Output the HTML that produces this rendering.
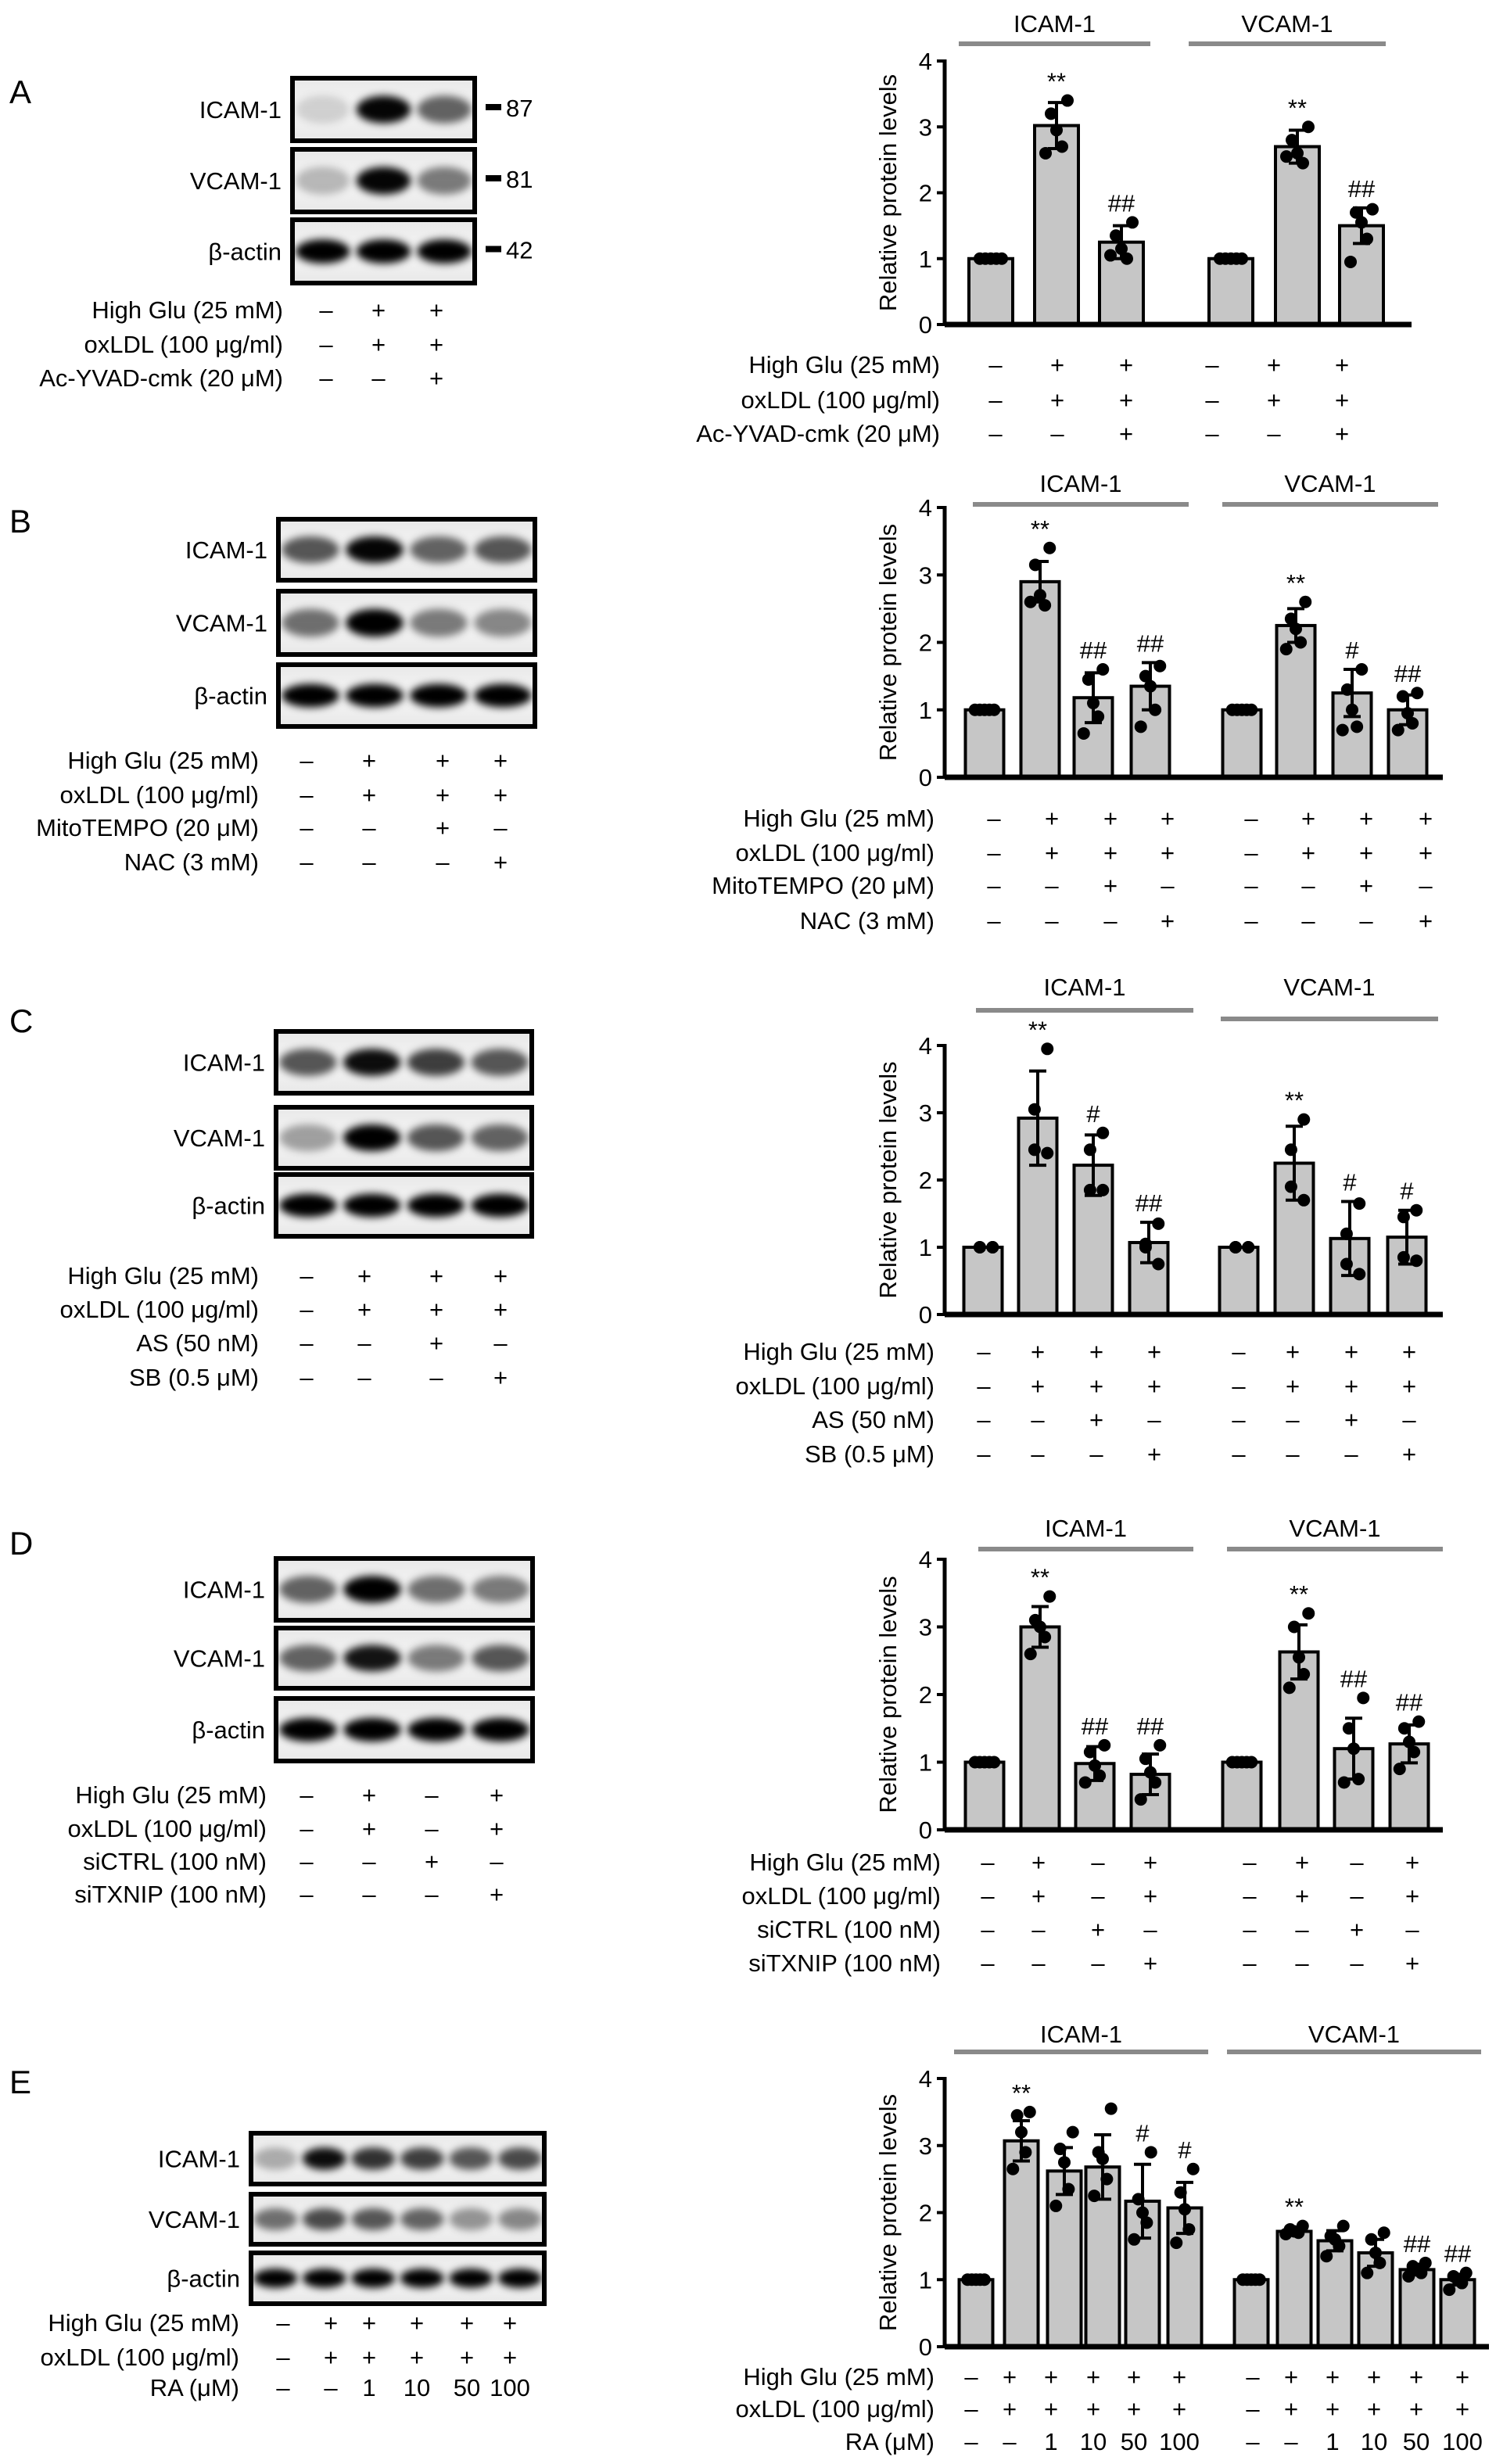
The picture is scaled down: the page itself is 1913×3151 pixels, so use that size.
<!DOCTYPE html>
<html><head><meta charset="utf-8">
<style>
html,body{margin:0;padding:0;background:#fff;}
svg{display:block;font-family:"Liberation Sans",Arial,sans-serif;}
</style></head>
<body>
<svg id="fig" width="1913" height="3151" viewBox="0 0 1913 3151" xmlns="http://www.w3.org/2000/svg">
<defs>
<filter id="blur" x="-50%" y="-50%" width="200%" height="200%"><feGaussianBlur stdDeviation="5"/></filter>
<linearGradient id="mem" x1="0" y1="0" x2="0" y2="1"><stop offset="0" stop-color="#e8e8e8"/><stop offset="0.5" stop-color="#f6f6f6"/><stop offset="1" stop-color="#e8e8e8"/></linearGradient>
</defs>
</svg>
<script>
// ---------- DATA ----------
const groupNames = ["ICAM-1","VCAM-1"];
const yTicks = [0,1,2,3,4];

const aIcamMean=[1,3.02,1.25], aIcamSD=[0,0.35,0.25];
const aVcamMean=[1,2.7,1.5],  aVcamSD=[0,0.25,0.27];
const aIcamPts=[[1,1,1,1,1],[3.4,3.2,2.95,2.7,2.6],[1.55,1.35,1.15,1.0,1.05]];
const aVcamPts=[[1,1,1,1,1],[3.0,2.8,2.6,2.45,2.55],[1.75,1.7,1.55,1.3,0.95]];
const aIcamSig=["","**","##"], aVcamSig=["","**","##"];
const aCondLabels=["High Glu (25 mM)","oxLDL (100 μg/ml)","Ac-YVAD-cmk (20 μM)"];
const aCondSigns=[["–","+","+"],["–","+","+"],["–","–","+"]];

const bIcamMean=[1,2.9,1.18,1.35], bIcamSD=[0,0.3,0.37,0.35];
const bVcamMean=[1,2.25,1.25,1.0], bVcamSD=[0,0.25,0.35,0.22];
const bIcamPts=[[1,1,1,1,1],[3.4,3.15,2.7,2.55,2.6],[1.6,1.45,1.1,0.9,0.65],[1.65,1.5,1.35,1.0,0.75]];
const bVcamPts=[[1,1,1,1,1],[2.6,2.35,2.2,2.0,1.9],[1.6,1.3,1.0,0.75,0.7],[1.25,1.2,0.95,0.8,0.7]];
const bIcamSig=["","**","##","##"], bVcamSig=["","**","#","##"];
const bCondLabels=["High Glu (25 mM)","oxLDL (100 μg/ml)","MitoTEMPO (20 μM)","NAC (3 mM)"];
const bCondSigns=[["–","+","+","+"],["–","+","+","+"],["–","–","+","–"],["–","–","–","+"]];

const cIcamMean=[1,2.92,2.22,1.07], cIcamSD=[0,0.7,0.45,0.3];
const cVcamMean=[1,2.25,1.13,1.15], cVcamSD=[0,0.55,0.55,0.4];
const cIcamPts=[[1,1,1,1],[3.95,3.05,2.45,2.4],[2.7,2.45,1.85,1.85],[1.35,1.05,1.0,0.75]];
const cVcamPts=[[1,1,1,1],[2.9,2.45,1.9,1.7],[1.65,1.2,0.75,0.6],[1.55,1.45,0.85,0.8]];
const cIcamSig=["","**","#","##"], cVcamSig=["","**","#","#"];
const cCondLabels=["High Glu (25 mM)","oxLDL (100 μg/ml)","AS (50 nM)","SB (0.5 μM)"];
const cCondSigns=[["–","+","+","+"],["–","+","+","+"],["–","–","+","–"],["–","–","–","+"]];

const dIcamMean=[1,3.0,0.98,0.82], dIcamSD=[0,0.3,0.25,0.3];
const dVcamMean=[1,2.63,1.2,1.27], dVcamSD=[0,0.4,0.45,0.28];
const dIcamPts=[[1,1,1,1,1],[3.45,3.1,3.0,2.85,2.6],[1.25,1.15,0.95,0.8,0.7],[1.25,1.05,0.85,0.7,0.45]];
const dVcamPts=[[1,1,1,1,1],[3.2,3.0,2.55,2.3,2.1],[1.95,1.5,1.2,0.75,0.7],[1.6,1.5,1.3,1.15,0.9]];
const dIcamSig=["","**","##","##"], dVcamSig=["","**","##","##"];
const dCondLabels=["High Glu (25 mM)","oxLDL (100 μg/ml)","siCTRL (100 nM)","siTXNIP (100 nM)"];
const dCondSigns=[["–","+","–","+"],["–","+","–","+"],["–","–","+","–"],["–","–","–","+"]];

const eIcamMean=[1,3.07,2.62,2.68,2.17,2.07], eIcamSD=[0,0.3,0.35,0.48,0.55,0.38];
const eVcamMean=[1,1.72,1.58,1.4,1.15,1.0], eVcamSD=[0,0.05,0.15,0.2,0.08,0.08];
const eIcamPts=[[1,1,1,1,1],[3.5,3.45,3.2,2.9,2.65],[3.2,2.95,2.75,2.35,2.1],[3.55,2.9,2.8,2.5,2.25],[2.9,2.2,2.0,1.85,1.6],[2.65,2.3,2.05,1.75,1.55]];
const eVcamPts=[[1,1,1,1,1],[1.8,1.75,1.72,1.7,1.68],[1.8,1.65,1.6,1.5,1.35],[1.7,1.6,1.4,1.25,1.1],[1.25,1.2,1.15,1.1,1.05],[1.1,1.05,1.0,0.95,0.85]];
const eIcamSig=["","**","","","#","#"], eVcamSig=["","**","","","##","##"];
const eCondLabels=["High Glu (25 mM)","oxLDL (100 μg/ml)","RA (μM)"];
const eCondSigns=[["–","+","+","+","+","+"],["–","+","+","+","+","+"],["–","–","1","10","50","100"]];

const aBands=[[0.15,0.98,0.6],[0.25,0.98,0.5],[1,1,1]];
const bBands=[[0.65,0.98,0.6,0.65],[0.55,1,0.5,0.45],[1,1,1,1]];
const cBands=[[0.65,0.95,0.75,0.65],[0.35,1,0.65,0.6],[1,1,1,1]];
const dBands=[[0.6,1,0.55,0.5],[0.6,0.92,0.5,0.65],[1,1,1,1]];
const eBands=[[0.3,0.95,0.8,0.75,0.65,0.7],[0.55,0.7,0.65,0.6,0.4,0.45],[1,1,1,1,1,1]];

// ---------- LAYOUT ----------
const panels=[
 {id:"a",letter:"A",ly:117,im:aIcamMean,is:aIcamSD,ip:aIcamPts,ig:aIcamSig,vm:aVcamMean,vs:aVcamSD,vp:aVcamPts,vg:aVcamSig,cl:aCondLabels,cs:aCondSigns,bands:aBands,
  blot:{x0:374,x1:607,boxes:[[100,180],[191,271],[281,362]],markers:["87","81","42"]},
  left:{right:362,rows:[396,440,483],cols:[417,484,558]},
  ch:{ax:1208,y0:415,y4:78,end:1805,lineY:[56,56],labY:29,lines:[[1226,1471],[1520,1772]],bw:56,
      ix:[1267,1351,1434],vx:[1574,1659,1741],rows:[466,511,554],right:1202,icx:[1273,1352,1440],vcx:[1550,1629,1716]}},
 {id:"b",letter:"B",ly:666,im:bIcamMean,is:bIcamSD,ip:bIcamPts,ig:bIcamSig,vm:bVcamMean,vs:bVcamSD,vp:bVcamPts,vg:bVcamSig,cl:bCondLabels,cs:bCondSigns,bands:bBands,
  blot:{x0:356,x1:684,boxes:[[664,742],[756,837],[850,929]]},
  left:{right:331,rows:[972,1016,1058,1102],cols:[392,472,566,640]},
  ch:{ax:1208,y0:994,y4:649,end:1845,lineY:[645,645],labY:617,lines:[[1244,1520],[1563,1839]],bw:49,
      ix:[1259,1330,1398,1471],vx:[1588,1657,1729,1800],rows:[1046,1090,1132,1177],right:1195,icx:[1271,1345,1420,1493],vcx:[1600,1673,1747,1823]}},
 {id:"c",letter:"C",ly:1305,im:cIcamMean,is:cIcamSD,ip:cIcamPts,ig:cIcamSig,vm:cVcamMean,vs:cVcamSD,vp:cVcamPts,vg:cVcamSig,cl:cCondLabels,cs:cCondSigns,bands:cBands,
  blot:{x0:353,x1:680,boxes:[[1319,1398],[1416,1494],[1502,1581]]},
  left:{right:331,rows:[1631,1674,1717,1761],cols:[392,466,558,640]},
  ch:{ax:1208,y0:1681,y4:1337,end:1845,lineY:[1292,1303],labY:1261,lines:[[1248,1526],[1561,1839]],bw:49,
      ix:[1257,1327,1398,1469],vx:[1584,1655,1726,1799],rows:[1728,1772,1815,1859],right:1195,icx:[1258,1327,1402,1476],vcx:[1584,1653,1728,1802]}},
 {id:"d",letter:"D",ly:1973,im:dIcamMean,is:dIcamSD,ip:dIcamPts,ig:dIcamSig,vm:dVcamMean,vs:dVcamSD,vp:dVcamPts,vg:dVcamSig,cl:dCondLabels,cs:dCondSigns,bands:dBands,
  blot:{x0:353,x1:681,boxes:[[1993,2072],[2082,2159],[2172,2252]]},
  left:{right:341,rows:[2295,2338,2380,2422],cols:[392,472,552,635]},
  ch:{ax:1208,y0:2340,y4:1994,end:1845,lineY:[1981,1981],labY:1953,lines:[[1251,1526],[1569,1845]],bw:49,
      ix:[1259,1330,1400,1471],vx:[1588,1661,1731,1802],rows:[2381,2424,2467,2510],right:1203,icx:[1263,1328,1404,1471],vcx:[1598,1665,1735,1806]}},
 {id:"e",letter:"E",ly:2662,im:eIcamMean,is:eIcamSD,ip:eIcamPts,ig:eIcamSig,vm:eVcamMean,vs:eVcamSD,vp:eVcamPts,vg:eVcamSig,cl:eCondLabels,cs:eCondSigns,bands:eBands,
  blot:{x0:321,x1:696,boxes:[[2728,2793],[2806,2870],[2881,2946]]},
  left:{right:306,rows:[2970,3014,3053],cols:[362,423,472,533,597,652]},
  ch:{ax:1208,y0:3001,y4:2658,end:1904,lineY:[2624,2624],labY:2600,lines:[[1220,1545],[1569,1894]],bw:43,
      ix:[1248,1306,1361,1410,1461,1515],vx:[1600,1655,1707,1759,1812,1864],rows:[3039,3080,3122],right:1195,icx:[1242,1291,1344,1398,1450,1508],vcx:[1602,1651,1704,1757,1811,1870]}}
];

// ---------- DRAW ----------
const NS="http://www.w3.org/2000/svg";
const svg=document.getElementById("fig");
function mk(tag,attrs,parent,txt){const e=document.createElementNS(NS,tag);for(const k in attrs)e.setAttribute(k,attrs[k]);if(txt!==undefined)e.textContent=txt;(parent||svg).appendChild(e);return e;}
const FS=31;

panels.forEach(p=>{
  const g=mk("g",{});
  
  
  const L=mk("text",{x:12,y:p.ly+15,"font-size":42},g,p.letter);
  
  

  const bl=p.blot, names=["ICAM-1","VCAM-1","β-actin"], n=p.bands[0].length, lw=(bl.x1-bl.x0)/n;
  p.bands.forEach((row,r)=>{
    const [y0,y1]=bl.boxes[r];
    const bg=mk("g",{},g);
    
    
    const cid="clip"+p.id+r;
    const cp=mk("clipPath",{id:cid},bg); mk("rect",{x:bl.x0,y:y0,width:bl.x1-bl.x0,height:y1-y0},cp);
    mk("rect",{x:bl.x0,y:y0,width:bl.x1-bl.x0,height:y1-y0,fill:"url(#mem)"},bg);
    const bandsG=mk("g",{"clip-path":"url(#"+cid+")"},bg);
    row.forEach((v,i)=>{
      const band=mk("ellipse",{cx:bl.x0+(i+0.5)*lw,cy:(y0+y1)/2,rx:lw*0.45,ry:(y1-y0)*(r==2?0.19:0.22),fill:"#000","fill-opacity":v,filter:"url(#blur)"},bandsG);
      
      
    });
    mk("rect",{x:bl.x0,y:y0,width:bl.x1-bl.x0,height:y1-y0,fill:"none",stroke:"#000","stroke-width":6},bg);
    const lab=mk("text",{x:bl.x0-14,y:(y0+y1)/2+11,"font-size":FS,"text-anchor":"end"},bg,names[r]);
    
    
    if(bl.markers){
      mk("rect",{x:bl.x1+14,y:(y0+y1)/2-7,width:20,height:8,fill:"#000"},bg);
      const mt=mk("text",{x:bl.x1+40,y:(y0+y1)/2+9,"font-size":FS},bg,bl.markers[r]);
      
      
    }
  });

  p.cl.forEach((lab,r)=>{
    const t=mk("text",{x:p.left.right,y:p.left.rows[r]+11,"font-size":FS,"text-anchor":"end"},g,lab);
    
    
    p.cs[r].forEach((s,i)=>{
      const st=mk("text",{x:p.left.cols[i],y:p.left.rows[r]+11,"font-size":FS,"text-anchor":"middle"},g,s);
      
      
    });
  });

  const c=p.ch;
  const ys=v=>c.y0-v*(c.y0-c.y4)/4;
  const cg=mk("g",{},g);
  
  
  groupNames.forEach((gn,k)=>{
    const [x0,x1]=c.lines[k];
    const ln=mk("line",{x1:x0,x2:x1,y1:c.lineY[k],y2:c.lineY[k],stroke:"#8a8a8a","stroke-width":6},cg);
    
    
    const gt=mk("text",{x:(x0+x1)/2,y:c.labY+12,"font-size":FS,"text-anchor":"middle"},cg,gn);
    
    
  });
  const ax=mk("line",{x1:c.ax,x2:c.ax,y1:c.y4-2,y2:c.y0,stroke:"#000","stroke-width":5},cg);
  
  
  yTicks.forEach(t=>{
    mk("line",{x1:c.ax-10,x2:c.ax,y1:ys(t),y2:ys(t),stroke:"#000","stroke-width":4},cg);
    const tl=mk("text",{x:c.ax-16,y:ys(t)+11,"font-size":FS,"text-anchor":"end"},cg,String(t));
    
    
  });
  const ty=mk("text",{x:0,y:0,"font-size":31,"text-anchor":"middle",transform:"translate("+(c.ax-62)+","+((c.y0+c.y4)/2)+") rotate(-90)"},cg,"Relative protein levels");
  
  
  const series=[[p.im,p.is,p.ip,p.ig,c.ix],[p.vm,p.vs,p.vp,p.vg,c.vx]];
  series.forEach(([m,sd,pts,sig,xs],k)=>{
    m.forEach((v,i)=>{
      const x=xs[i];
      const r=mk("rect",{x:x-c.bw/2,y:ys(v),width:c.bw,height:c.y0-ys(v),fill:"#c6c6c6",stroke:"#000","stroke-width":4},cg);
      
      
      if(sd[i]>0){
        const eb=mk("g",{stroke:"#000","stroke-width":4},cg);
        
        
        mk("line",{x1:x,x2:x,y1:ys(v+sd[i]),y2:ys(v-sd[i])},eb);
        mk("line",{x1:x-11,x2:x+11,y1:ys(v+sd[i]),y2:ys(v+sd[i])},eb);
        mk("line",{x1:x-11,x2:x+11,y1:ys(v-sd[i]),y2:ys(v-sd[i])},eb);
      }
      const np=pts[i].length;
      pts[i].forEach((pv,j)=>{
        const off=np>1?(j-(np-1)/2)*(c.bw*0.5/(np-1))*((j%2)?1:-1):0;
        const d=mk("circle",{cx:x+off,cy:ys(pv),r:8,fill:"#000"},cg);
        
        
      });
      if(sig[i]){
        const top=Math.max(v+sd[i],Math.max(...pts[i]));
        const s=mk("text",{x:x,y:ys(top)-14,"font-size":FS,"text-anchor":"middle"},cg,sig[i]);
        
        
      }
    });
  });
  const base=mk("line",{x1:c.ax,x2:c.end,y1:c.y0,y2:c.y0,stroke:"#000","stroke-width":7},cg);
  
  
  p.cl.forEach((lab,r)=>{
    const t=mk("text",{x:c.right,y:c.rows[r]+11,"font-size":FS,"text-anchor":"end"},cg,lab);
    
    
    [c.icx,c.vcx].forEach(cols=>{
      p.cs[r].forEach((s,i)=>{
        const st=mk("text",{x:cols[i],y:c.rows[r]+11,"font-size":FS,"text-anchor":"middle"},cg,s);
        
        
      });
    });
  });
});
</script>
</body></html>
